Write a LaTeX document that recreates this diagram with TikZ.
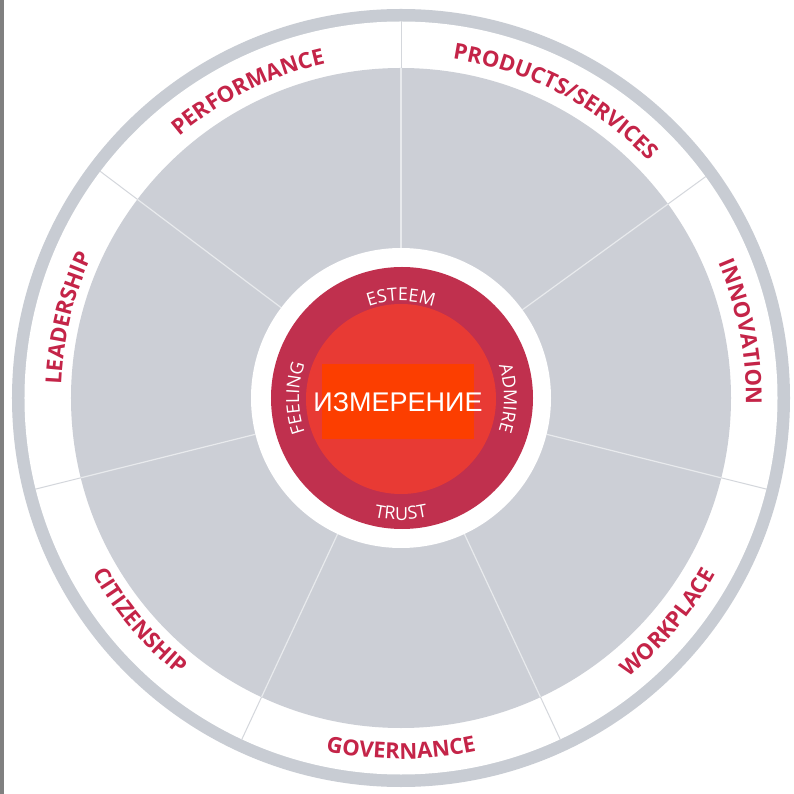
\documentclass[tikz,border=0pt]{standalone}
\usepackage{fontspec}
\setmainfont{Liberation Sans}
\newfontfamily\labelfont{Open Sans}
\usetikzlibrary{decorations.text}

\definecolor{sectorgray}{RGB}{204,207,214}
\definecolor{ringgray}{RGB}{200,204,211}
\definecolor{bandline}{RGB}{212,215,220}
\definecolor{sectorline}{RGB}{232,234,237}
\definecolor{crimson}{RGB}{192,48,78}
\definecolor{innerred}{RGB}{232,58,52}
\definecolor{rectorange}{RGB}{252,62,0}
\definecolor{labelred}{RGB}{196,36,72}
\definecolor{bargray}{RGB}{128,128,128}

\tikzset{
  outerlabel/.style={decorate, decoration={text along path, text align=center,
      text color=labelred, text={|\labelfont\bfseries\fontsize{22}{22}\selectfont|#1}}},
  innerlabel/.style={decorate, decoration={text along path, text align=center,
      text color=white, text={|\labelfont\fontsize{18}{18}\selectfont|#1}}},
}

\begin{document}
\begin{tikzpicture}[x=1pt,y=1pt]

\useasboundingbox (-401,-396) rectangle (392,398);
\fill[white] (-401,-396) rectangle (392,398);
\fill[bargray] (-401,-396) rectangle (-397,398);

\fill[ringgray] (0,0) circle (389);
\fill[white] (0,0) circle (376.5);
\fill[sectorgray] (0,0) circle (330);

\foreach \ang in {90,36,-14,-65,-115,194,143}
{
\draw[sectorline, line width=1.2] (\ang:150) -- (\ang:330);
\draw[bandline, line width=1] (\ang:330) -- (\ang:377);
}

\fill[white] (0,0) circle (150);
\fill[crimson] (1,0) circle (131);
\fill[innerred] (0,-1) circle (95);

\path[outerlabel=PERFORMANCE] (156.5:343) arc[start angle=156.5, end angle=76.5, radius=343];
\path[outerlabel=PRODUCTS/SERVICES] (112.5:343) arc[start angle=112.5, end angle=12.5, radius=343];
\path[outerlabel=INNOVATION] (51:345) arc[start angle=51, end angle=-29, radius=345];
\path[outerlabel=LEADERSHIP] (206.5:340) arc[start angle=206.5, end angle=126.5, radius=340];
\path[outerlabel=WORKPLACE] (-80:360) arc[start angle=-80, end angle=0, radius=360];
\path[outerlabel=GOVERNANCE] (-130:361) arc[start angle=-130, end angle=-50, radius=361];
\path[outerlabel=CITIZENSHIP] (180.5:355) arc[start angle=180.5, end angle=260.5, radius=355];

\path[innerlabel=ESTEEM] (150:97) arc[start angle=150, end angle=30, radius=97];
\path[innerlabel=ADMIRE] (60:103) arc[start angle=60, end angle=-60, radius=103];
\path[innerlabel=FEELING] (240:102) arc[start angle=240, end angle=120, radius=102];
\path[innerlabel=TRUST] (-150:122) arc[start angle=-150, end angle=-30, radius=122];

\fill[rectorange] (-79,-41) rectangle (73,34);
\node[text=white, inner sep=0pt, font=\fontsize{27}{27}\selectfont] (measure) at (-3,-4.5) {ИЗМЕРЕНИЕ};

\end{tikzpicture}
\end{document}
